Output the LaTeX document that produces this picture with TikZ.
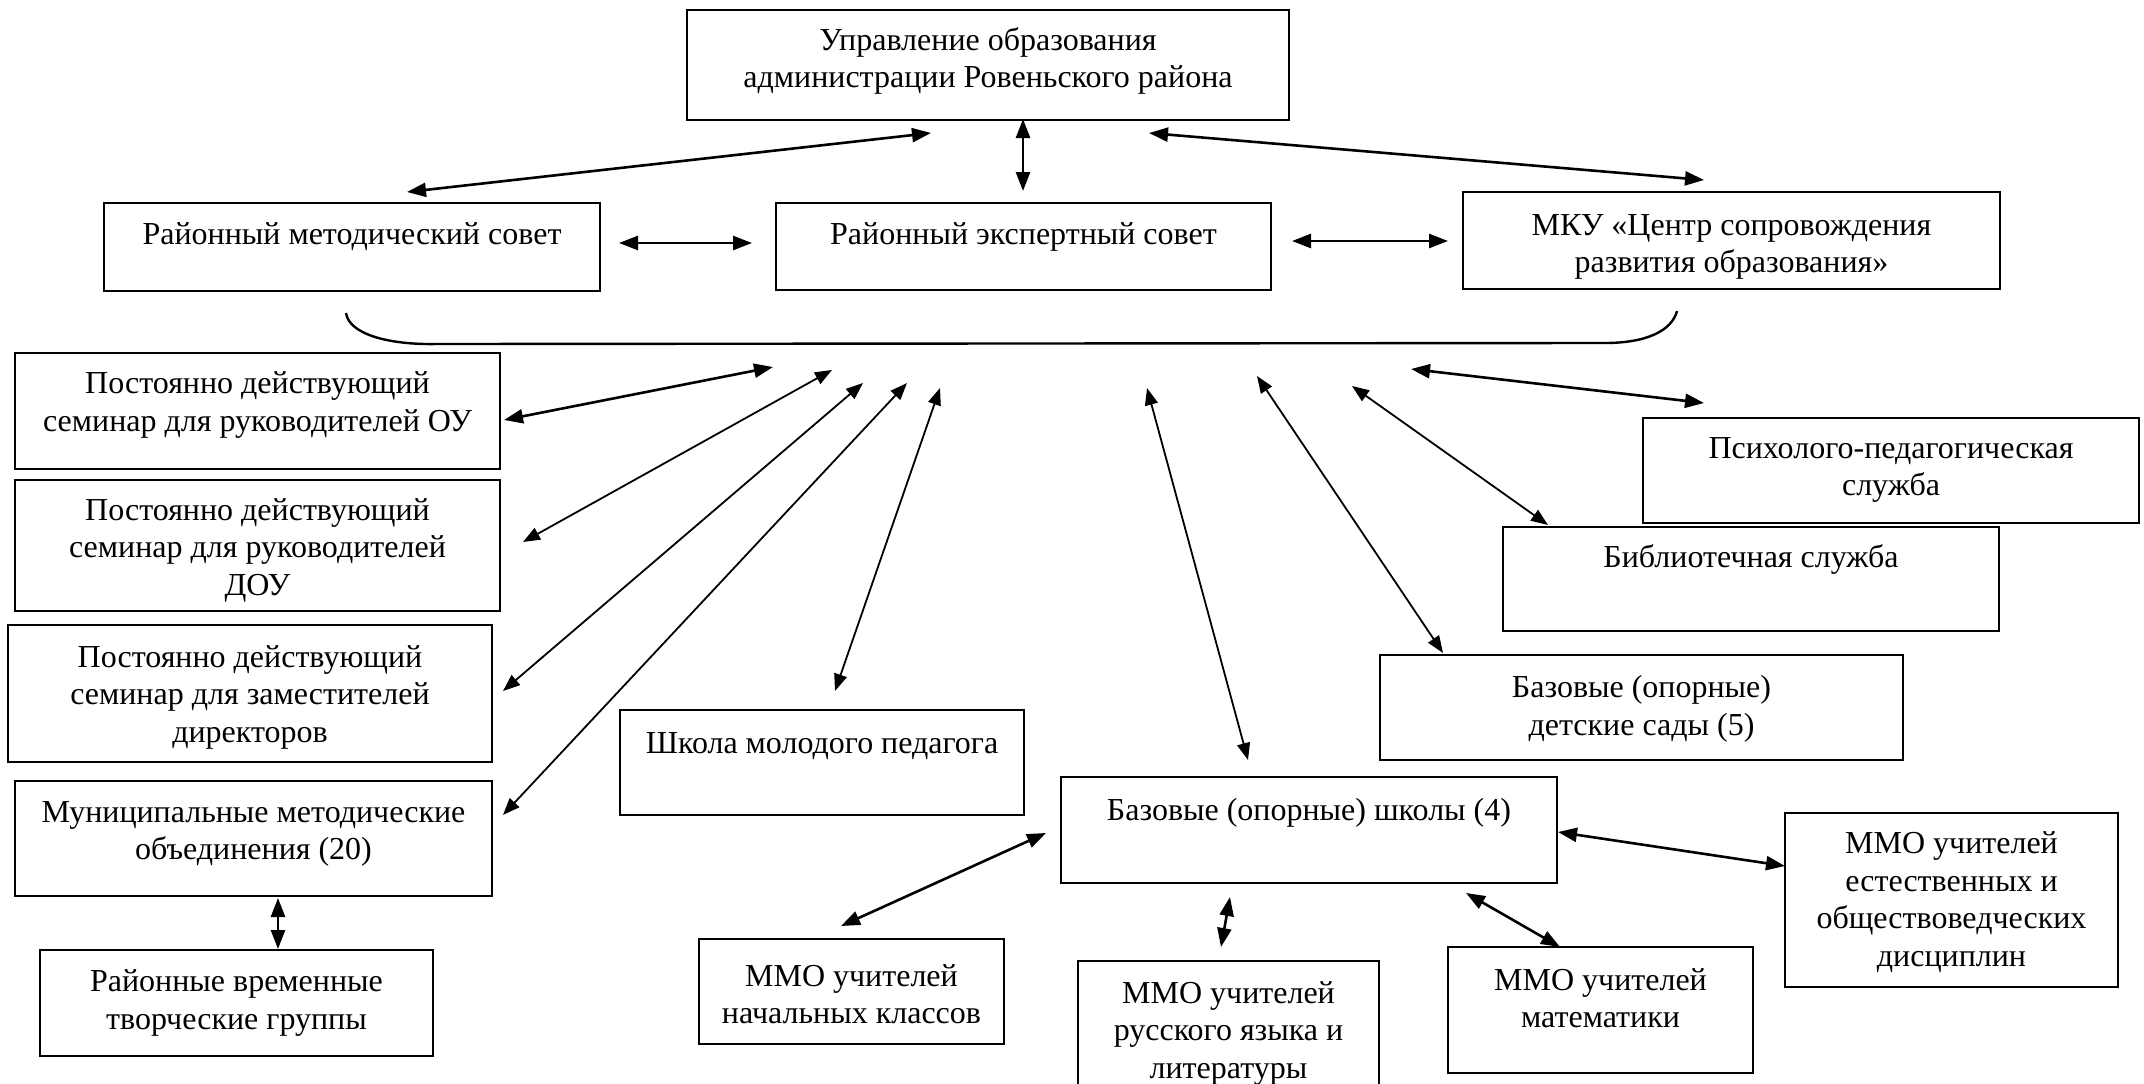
\documentclass[tikz,border=0pt]{standalone}
\usepackage{fontspec}
\setmainfont{Liberation Serif}
\usetikzlibrary{arrows.meta}
\tikzset{
  box/.style={draw, line width=2.4pt, inner sep=0pt},
  txt/.style={font=\fontsize{32}{37.5}\selectfont, align=center, inner sep=0pt},
  thk/.style={line width=2.6pt, {Triangle[length=19pt,width=14pt]}-{Triangle[length=19pt,width=14pt]}},
  thn/.style={line width=1.8pt, {Triangle[length=17pt,width=13pt]}-{Triangle[length=17pt,width=13pt]}},
  brc/.style={line width=2.4pt}
}
\begin{document}
\begin{tikzpicture}[x=1pt,y=-1pt]
\fill[white] (0,0) rectangle (2144,1084);
\useasboundingbox (0,0) rectangle (2144,1084);

% boxes
\node[box, minimum width=602pt, minimum height=110pt] (upr) at (988,65) {};
\node[box, minimum width=496pt, minimum height=88pt] (metod) at (352,247) {};
\node[box, minimum width=495pt, minimum height=87pt] (expert) at (1023.5,246.5) {};
\node[box, minimum width=537pt, minimum height=97pt] (mku) at (1731.5,240.5) {};
\node[box, minimum width=485pt, minimum height=116pt] (semou) at (257.5,411) {};
\node[box, minimum width=485pt, minimum height=131pt] (semdou) at (257.5,545.5) {};
\node[box, minimum width=484pt, minimum height=137pt] (semzam) at (250,693.5) {};
\node[box, minimum width=477pt, minimum height=115pt] (mmo) at (253.5,838.5) {};
\node[box, minimum width=393pt, minimum height=106pt] (vtg) at (236.5,1003) {};
\node[box, minimum width=404pt, minimum height=105pt] (smp) at (822,762.5) {};
\node[box, minimum width=305pt, minimum height=105pt] (nach) at (851.5,991.5) {};
\node[box, minimum width=496pt, minimum height=106pt] (bshk) at (1309,830) {};
\node[box, minimum width=301pt, minimum height=134pt] (rus) at (1228.5,1028) {};
\node[box, minimum width=305pt, minimum height=126pt] (mat) at (1600.5,1010) {};
\node[box, minimum width=333pt, minimum height=174pt] (est) at (1951.5,900) {};
\node[box, minimum width=496pt, minimum height=105pt] (psy) at (1891,470.5) {};
\node[box, minimum width=496pt, minimum height=104pt] (lib) at (1751,579) {};
\node[box, minimum width=523pt, minimum height=105pt] (sady) at (1641.5,707.5) {};

% texts
\node[txt] (upr-t) at (988,61) {Управление образования\\администрации Ровеньского района};
\node[txt] (metod-t) at (352,237) {Районный методический совет};
\node[txt] (expert-t) at (1023.5,237) {Районный экспертный совет};
\node[txt] (mku-t) at (1731.5,247) {МКУ «Центр сопровождения\\развития образования»};
\node[txt] (semou-t) at (257.5,405) {Постоянно действующий\\семинар для руководителей ОУ};
\node[txt] (semdou-t) at (257.5,550) {Постоянно действующий\\семинар для руководителей\\ДОУ};
\node[txt] (semzam-t) at (250,697) {Постоянно действующий\\семинар для заместителей\\директоров};
\node[txt] (mmo-t) at (253.5,834) {Муниципальные методические\\объединения (20)};
\node[txt] (vtg-t) at (236.5,1003) {Районные временные\\творческие группы};
\node[txt] (smp-t) at (822,746) {Школа молодого педагога};
\node[txt] (nach-t) at (851.5,994) {ММО учителей\\начальных классов};
\node[txt] (bshk-t) at (1309,813) {Базовые (опорные) школы (4)};
\node[txt] (rus-t) at (1228.5,1033) {ММО учителей\\русского языка и\\литературы};
\node[txt] (mat-t) at (1600.5,998) {ММО учителей\\математики};
\node[txt] (est-t) at (1951.5,902) {ММО учителей\\естественных и\\обществоведческих\\дисциплин};
\node[txt] (psy-t) at (1891,470) {Психолого-педагогическая\\служба};
\node[txt] (lib-t) at (1751,559) {Библиотечная служба};
\node[txt] (sady-t) at (1641.5,709) {Базовые (опорные)\\детские сады (5)};

% brace
\coordinate (brL) at (346,313);
\coordinate (brR) at (1677,311);
\draw[brc] (brL) .. controls (349,334) and (388,345) .. (437,344) -- (1605,343) .. controls (1648,343) and (1672,330) .. (brR);

% free ends at the brace
\coordinate (e-ou) at (773,367);
\coordinate (e-dou) at (832,370);
\coordinate (e-zam) at (863,383);
\coordinate (e-mmo) at (907,383);
\coordinate (e-smp) at (940,388);
\coordinate (e-bshk) at (1147,388);
\coordinate (e-sady) at (1257,376);
\coordinate (e-lib) at (1352,386);
\coordinate (e-psy) at (1411,369);

% thick connectors
\draw[thk] ([shift={(-57,68)}]upr.center) -- ([shift={(55,-55)}]metod.center);
\draw[thk] ([shift={(35,54)}]upr.center) -- ([shift={(-0.5,-55.5)}]expert.center);
\draw[thk] ([shift={(161,68)}]upr.center) -- ([shift={(-27.5,-60.5)}]mku.center);
\draw[thk] ([shift={(267,-4)}]metod.center) -- ([shift={(-271.5,-3.5)}]expert.center);
\draw[thk] ([shift={(268.5,-5.5)}]expert.center) -- ([shift={(-283.5,0.5)}]mku.center);
\draw[thk] ([shift={(246.5,9)}]semou.center) -- (e-ou);
\draw[thk] ([shift={(-187,-67.5)}]psy.center) -- (e-psy);
\draw[thk] ([shift={(249,2)}]bshk.center) -- ([shift={(-166.5,-34)}]est.center);
\draw[thk] ([shift={(-263,3)}]bshk.center) -- ([shift={(-10.5,-65.5)}]nach.center);
\draw[thk] ([shift={(-79,67)}]bshk.center) -- ([shift={(-7.5,-81)}]rus.center);
\draw[thk] ([shift={(157,63)}]bshk.center) -- ([shift={(-40.5,-63)}]mat.center);
\draw[thk] ([shift={(24.5,59.5)}]mmo.center) -- ([shift={(41.5,-54)}]vtg.center);

% thin connectors
\draw[thn] ([shift={(265.5,-3.5)}]semdou.center) -- (e-dou);
\draw[thn] ([shift={(253,-2.5)}]semzam.center) -- (e-zam);
\draw[thn] ([shift={(249.5,-23.5)}]mmo.center) -- (e-mmo);
\draw[thn] ([shift={(13,-71.5)}]smp.center) -- (e-smp);
\draw[thn] ([shift={(-61,-70)}]bshk.center) -- (e-bshk);
\draw[thn] ([shift={(-198.5,-54.5)}]sady.center) -- (e-sady);
\draw[thn] ([shift={(-203,-54)}]lib.center) -- (e-lib);
\end{tikzpicture}
\end{document}
